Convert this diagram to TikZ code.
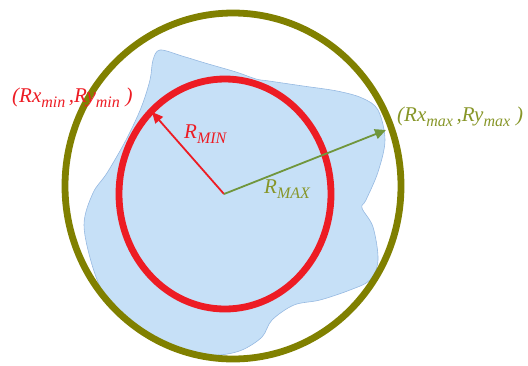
\documentclass[tikz,border=0pt]{standalone}
\usepackage{fontspec}
\setmainfont{Liberation Serif}
\usetikzlibrary{arrows.meta,shapes.geometric}
\definecolor{olivering}{RGB}{128,128,0}
\definecolor{redring}{RGB}{237,28,36}
\definecolor{blobfill}{RGB}{198,224,247}
\definecolor{blobline}{RGB}{150,185,225}
\definecolor{maxarrow}{RGB}{112,150,60}
\definecolor{maxtext}{RGB}{135,150,40}
\tikzset{
  lbl/.style={inner sep=0pt, font=\fontsize{21}{24}\selectfont\itshape},
  radarrow/.style={line width=1.8pt, -{Triangle[length=11pt,width=10pt]}}
}
\newcommand{\sbx}[1]{\raisebox{-5pt}{\fontsize{16}{17}\selectfont #1}}
\begin{document}
\begin{tikzpicture}[x=1pt,y=-1pt]
\useasboundingbox (0,0) rectangle (528,365);
% blob
\draw[fill=blobfill, draw=blobline, line width=0.6pt]
  plot[smooth cycle, tension=0.55] coordinates {
  (160,50) (182,56) (205,63) (236,72) (256,79) (269,81) (303,86) (337,91) (362,98)
  (378,110) (385,140) (378,172) (366,200) (362,208) (373,227) (378,260) (370,280)
  (350,290) (320,300) (294,305) (272,320) (262,337) (242,350) (219,355)
  (189,354) (158,340) (128,323) (107,300) (93,268) (84,225) (93,193) (107,173)
  (126,140) (141,108) (150,80) (153,60)};
% rings
\node[draw=olivering, line width=6.8pt, ellipse, minimum width=336pt, minimum height=346pt, inner sep=0pt] (outer) at (233,186) {};
\node[draw=redring, line width=6.8pt, ellipse, minimum width=212pt, minimum height=230pt, inner sep=0pt] (inner) at (225,194) {};
% center and tips
\coordinate (c) at (224,194);
\coordinate (tmin) at (152,112);
\coordinate (tmax) at (386,130);
\draw[radarrow, draw=redring, fill=redring] (c) -- (tmin);
\draw[radarrow, draw=maxarrow, fill=maxarrow] (c) -- (tmax);
% labels
\node[lbl, text=redring, anchor=west] (lmin) at (12,98) {(Rx\sbx{min}\,,Ry\sbx{min}\;)};
\node[lbl, text=maxtext, anchor=west] (lmax) at (397,117) {(Rx\sbx{max}\,,Ry\sbx{max}\;)};
\node[lbl, text=redring, anchor=west] (rmin) at (184,134) {R\sbx{MIN}};
\node[lbl, text=maxtext, anchor=west] (rmax) at (264,189) {R\sbx{MAX}};
\end{tikzpicture}
\end{document}
